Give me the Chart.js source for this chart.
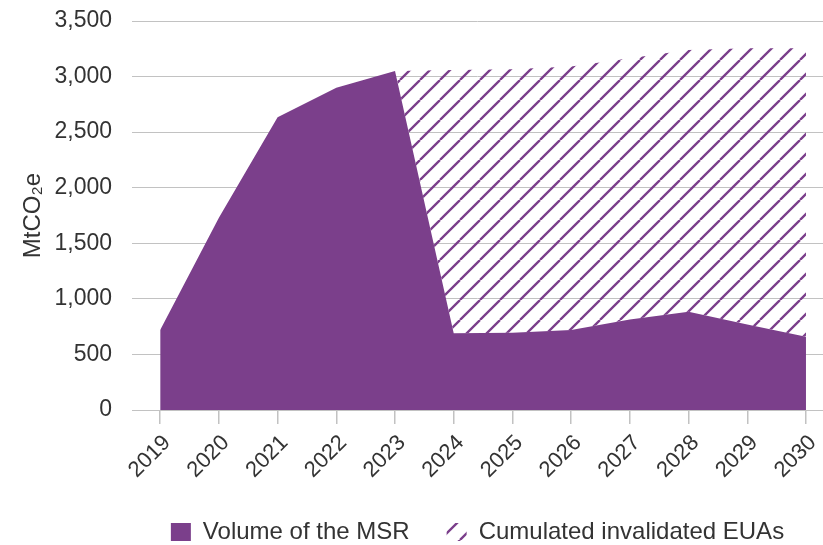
<!DOCTYPE html>
<html>
<head>
<meta charset="utf-8">
<script src="https://cdn.jsdelivr.net/npm/chart.js@4.4.1/dist/chart.umd.min.js"></script>
<style>
  html, body { margin: 0; padding: 0; background: #fff; }
</style>
</head>
<body>
<canvas id="msrChart" width="823" height="545"></canvas>
<script>
// values (MtCO2e)
const years = [2019, 2020, 2021, 2022, 2023, 2024, 2025, 2026, 2027, 2028, 2029, 2030];
const msrVolume = [720, 1730, 2635, 2900, 3050, 690, 695, 720, 815, 885, 770, 660];
const invalidatedYears = [2023, 2024, 2025, 2026, 2027, 2028, 2029, 2030];
const invalidatedEUAs = [0, 2370, 2370, 2370, 2350, 2355, 2485, 2595];
const yTickValues = [0, 500, 1000, 1500, 2000, 2500, 3000, 3500];

const purple = "#7b3f8b";
const gridGrey = "#c2c2c2";
const textColor = "#333333";

Chart.defaults.font.family = "'Liberation Sans', Arial, Helvetica, sans-serif";

// diagonal hatch for the invalidated EUAs area
function makeHatch(color) {
  const size = 20;
  const c = document.createElement("canvas");
  c.width = size;
  c.height = size;
  const g = c.getContext("2d");
  g.strokeStyle = color;
  g.lineWidth = 2.3;
  g.beginPath();
  for (const k of [-1, 0, 1]) {
    g.moveTo(k * size, size);
    g.lineTo(k * size + size, 0);
  }
  g.stroke();
  return g.createPattern(c, "repeat");
}

const ctx = document.getElementById("msrChart").getContext("2d");
const hatch = makeHatch(purple);

new Chart(ctx, {
  type: "line",
  data: {
    datasets: [
      {
        label: "Volume of the MSR",
        data: years.map((yr, i) => ({ x: yr, y: msrVolume[i] })),
        backgroundColor: purple,
        borderColor: purple,
        borderWidth: 0,
        pointRadius: 0,
        tension: 0,
        fill: "origin",
      },
      {
        label: "Cumulated invalidated EUAs",
        data: invalidatedYears.map((yr, i) => ({ x: yr, y: invalidatedEUAs[i] })),
        backgroundColor: hatch,
        borderColor: purple,
        borderWidth: 0,
        pointRadius: 0,
        tension: 0,
        fill: "-1",
      },
    ],
  },
  options: {
    responsive: false,
    animation: false,
    layout: { padding: { top: 21, right: 0, bottom: 0, left: 0 } },
    plugins: {
      tooltip: { enabled: false },
      legend: {
        position: "bottom",
        fullSize: false,
        maxHeight: 62,
        labels: {
          boxWidth: 20,
          boxHeight: 18,
          padding: 37,
          color: textColor,
          font: { size: 24 },
        },
      },
    },
    scales: {
      x: {
        type: "linear",
        min: 2018.52,
        max: 2030.29,
        grid: {
          drawOnChartArea: false,
          drawTicks: true,
          tickLength: 14,
          color: gridGrey,
          lineWidth: 1.5,
        },
        border: { display: true, color: gridGrey, width: 1 },
        ticks: {
          stepSize: 1,
          includeBounds: false,
          autoSkip: false,
          minRotation: 45,
          maxRotation: 45,
          padding: 6,
          labelOffset: 7,
          color: textColor,
          font: { size: 22 },
          callback: (val) => String(val),
        },
        afterFit: (scale) => {
          scale.height = 73;
          scale.paddingLeft = 0;
          scale.paddingRight = 0;
        },
      },
      y: {
        stacked: true,
        min: yTickValues[0],
        max: yTickValues[yTickValues.length - 1],
        grid: { drawTicks: false, color: gridGrey, lineWidth: 1 },
        border: { display: false },
        ticks: {
          stepSize: yTickValues[1] - yTickValues[0],
          padding: 20,
          color: textColor,
          font: { size: 23 },
          callback: (val) => val.toLocaleString("en-US"),
        },
        title: {
          display: true,
          text: "MtCO₂e",
          color: textColor,
          font: { size: 24 },
          padding: { top: 19, bottom: 0 },
        },
        afterFit: (scale) => {
          scale.width = 132;
          scale.paddingTop = 0;
          scale.paddingBottom = 0;
        },
      },
    },
  },
});
</script>
</body>
</html>
